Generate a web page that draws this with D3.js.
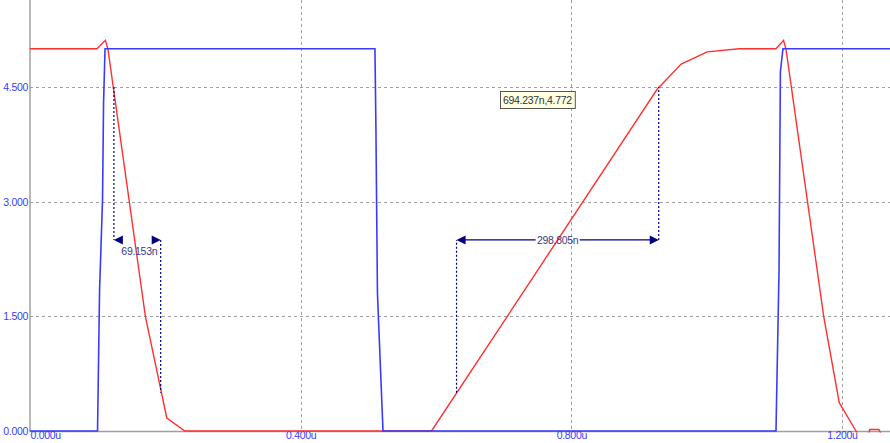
<!DOCTYPE html>
<html>
<head>
<meta charset="utf-8">
<script src="https://cdn.jsdelivr.net/npm/d3@7"></script>
<style>
  body { margin: 0; background: #fff; }
  svg { display: block; }
  text { font-family: "Liberation Sans", Arial, sans-serif; }
</style>
</head>
<body>
<script>
// chart size
var w = 890, h = 443;

// tick values
var xTicks = [0, 0.4, 0.8, 1.2];       // time in us
var yTicks = [0, 1.5, 3, 4.5];         // volts

// blue trace (input square wave): time us, volts
var blueT = [0, 0.0998, 0.1028, 0.1050, 0.1072, 0.1087, 0.1109, 0.5098, 0.5112, 0.5135, 0.5217, 1.1025, 1.1070, 1.1090, 1.1128, 1.2720];
var blueV = [0, 0,      1.84,   2.43,   3.03,   4.28,   5.0,    5.0,    4.0,    1.8,    0,      0,      2.1,    4.7,    5.0,    5.0];

// red trace (output): time us, volts
var redT = [0, 0.0990, 0.1114, 0.1151, 0.1705, 0.2022, 0.2288, 0.5934, 0.9269, 0.9624, 1.0007, 1.0480, 1.1025, 1.1136, 1.1172, 1.1730, 1.1960, 1.2207, 1.2251, 1.2384, 1.2413, 1.2546, 1.2590, 1.2720];
var redV = [5.0, 5.0,  5.11,   5.0,    1.5,    0.17,   0,      0,      4.47,   4.80,   4.96,   5.0,    5.0,    5.11,   5.0,    1.5,    0.37,   0,      -0.06,  -0.06,  0.02,   0.02,   -0.06,  -0.06];

// measurements: start time, width, low level, high level, arrow level
var measStart = [0.1240, 0.6304];
var measWidth = [0.069153, 0.298805];
var measLow = [0.5, 0.5];
var measHigh = [4.5, 4.5];
var measMid = [2.5, 2.5];
var measFalling = [true, false];

// cursor readout
var cursorT = 0.694237, cursorV = 4.772;

var x = d3.scaleLinear().domain([0, 1.271]).range([30, 890]);
var y = d3.scaleLinear().domain([0, 5.638]).range([431, 0]);

var svg = d3.select("body").append("svg").attr("width", w).attr("height", h);

svg.append("clipPath").attr("id", "plot")
  .append("rect").attr("x", 30).attr("y", 0).attr("width", 860).attr("height", 432.5);

// grid
svg.append("g").selectAll("line").data(yTicks.filter(function(d){ return d > 0; })).enter().append("line")
  .attr("x1", 30).attr("x2", w).attr("y1", function(d){ return Math.round(y(d)) + 0.5; }).attr("y2", function(d){ return Math.round(y(d)) + 0.5; })
  .attr("stroke", "#a0a0a0").attr("stroke-dasharray", "3,3");
svg.append("g").selectAll("line").data(xTicks.filter(function(d){ return d > 0; })).enter().append("line")
  .attr("y1", 0).attr("y2", 431).attr("x1", function(d){ return Math.round(x(d)) + 0.5; }).attr("x2", function(d){ return Math.round(x(d)) + 0.5; })
  .attr("stroke", "#a0a0a0").attr("stroke-dasharray", "3,3");

// axes lines
svg.append("line").attr("x1", 30).attr("x2", 30).attr("y1", 0).attr("y2", 432).attr("stroke", "#a0a0a0").attr("stroke-width", 1.5);
svg.append("line").attr("x1", 30).attr("x2", w).attr("y1", 431.5).attr("y2", 431.5).attr("stroke", "#a0a0a0").attr("stroke-width", 1.5);

// tick labels
var yAxis = svg.append("g").attr("transform", "translate(28,0)")
  .call(d3.axisLeft(y).tickValues(yTicks).tickFormat(d3.format(".3f")).tickSize(0).tickPadding(0));
yAxis.select(".domain").remove();
yAxis.selectAll("text").attr("fill", "#3a3aff").style("font-size", "10.5px").style("letter-spacing", "-0.3px");

var xAxis = svg.append("g").attr("transform", "translate(0,431)")
  .call(d3.axisBottom(x).tickValues(xTicks).tickFormat(function(d){ return d3.format(".3f")(d) + "u"; }).tickSize(0).tickPadding(1));
xAxis.select(".domain").remove();
xAxis.selectAll("text").attr("fill", "#3a3aff").style("font-size", "10.5px").style("letter-spacing", "-0.3px")
  .attr("text-anchor", function(d){ return d === 0 ? "start" : "middle"; });

// traces
var line = d3.line().x(function(d){ return x(d[0]); }).y(function(d){ return y(d[1]); });
var plot = svg.append("g").attr("clip-path", "url(#plot)");
plot.append("path").datum(d3.zip(redT, redV)).attr("d", line)
  .attr("fill", "none").attr("stroke", "#ff3030").attr("stroke-width", 1.4);
plot.append("path").datum(d3.zip(blueT, blueV)).attr("d", line)
  .attr("fill", "none").attr("stroke", "#3a3aff").attr("stroke-width", 1.6);

// measurements
var navy = "#000080";
measStart.forEach(function(t0, i) {
  var x0 = x(t0), x1 = x(t0 + measWidth[i]);
  var ym = y(measMid[i]);
  var yLeft = measFalling[i] ? y(measHigh[i]) : y(measLow[i]);
  var yRight = measFalling[i] ? y(measLow[i]) : y(measHigh[i]);
  var g = svg.append("g");
  g.append("line").attr("x1", x0).attr("x2", x0).attr("y1", yLeft).attr("y2", ym)
    .attr("stroke", navy).attr("stroke-width", 1.2).attr("stroke-dasharray", "2,2");
  g.append("line").attr("x1", x1).attr("x2", x1).attr("y1", ym).attr("y2", yRight)
    .attr("stroke", navy).attr("stroke-width", 1.2).attr("stroke-dasharray", "2,2");
  g.append("path").attr("d", "M" + x0 + "," + ym + "l9,-4.5l0,9z").attr("fill", navy);
  g.append("path").attr("d", "M" + x1 + "," + ym + "l-9,-4.5l0,9z").attr("fill", navy);
  var label = d3.format(".3f")(measWidth[i] * 1000) + "n";
  var wide = (x1 - x0) > 60;
  if (wide) {
    var cx = (x0 + x1) / 2, gap = 22;
    g.append("line").attr("x1", x0 + 8).attr("x2", cx - gap).attr("y1", ym).attr("y2", ym).attr("stroke", navy).attr("stroke-width", 1.2);
    g.append("line").attr("x1", cx + gap).attr("x2", x1 - 8).attr("y1", ym).attr("y2", ym).attr("stroke", navy).attr("stroke-width", 1.2);
    g.append("text").attr("x", cx).attr("y", ym).attr("dy", "0.35em").attr("text-anchor", "middle")
      .attr("fill", "#3a3a88").style("font-size", "10.5px").style("letter-spacing", "-0.3px").text(label);
  } else {
    g.append("text").attr("x", (x0 + x1) / 2 + 2).attr("y", ym + 11).attr("dy", "0.35em").attr("text-anchor", "middle")
      .attr("fill", "#3a3a88").style("font-size", "10.5px").style("letter-spacing", "-0.3px").text(label);
  }
});

// cursor readout box
var tip = svg.append("g").attr("transform", "translate(" + Math.round(x(cursorT)) + "," + Math.round(y(cursorV) + 25) + ")");
var tipText = tip.append("text").attr("x", 3).attr("y", 9).attr("dy", "0.35em")
  .attr("fill", "#333").style("font-size", "10.5px").style("letter-spacing", "-0.3px")
  .text(d3.format(".3f")(cursorT * 1000) + "n," + d3.format(".3f")(cursorV));
var bw = tipText.node().getComputedTextLength() + 6;
tip.insert("rect", "text").attr("x", 0.5).attr("y", 0.5).attr("width", bw).attr("height", 17)
  .attr("fill", "#ffffe1").attr("stroke", "#555");
</script>
</body>
</html>
